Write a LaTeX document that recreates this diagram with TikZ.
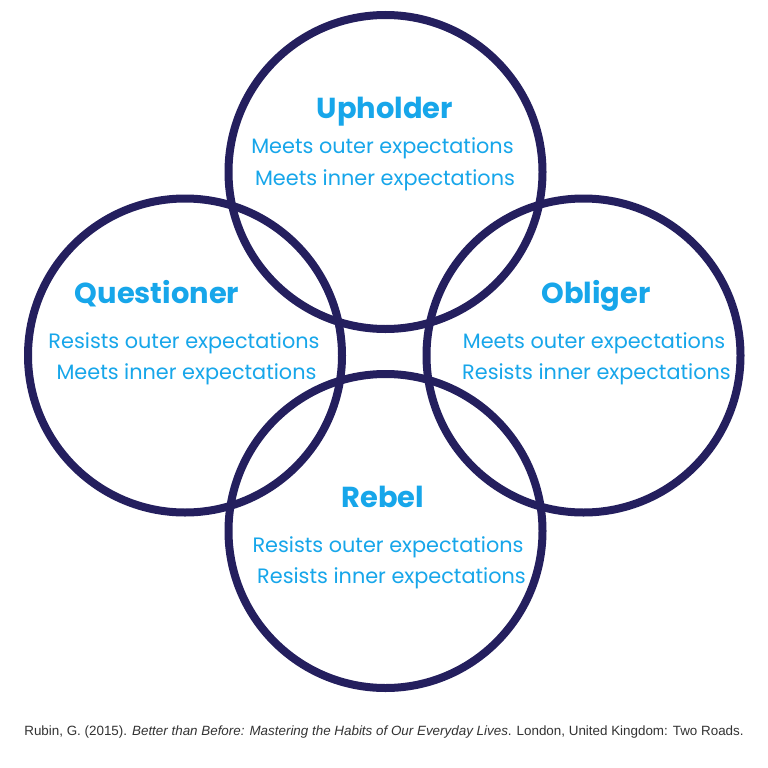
\documentclass[tikz,border=0pt]{standalone}
\usepackage{fontspec}
\setmainfont{Poppins}
\newfontfamily\citefont{Liberation Sans}
\definecolor{ringcol}{HTML}{241F5E}
\definecolor{txtcol}{HTML}{17A6EA}
\definecolor{citecol}{HTML}{333333}
\begin{document}
\begin{tikzpicture}[x=1pt,y=-1pt,
  ring/.style={draw=ringcol,line width=8pt,circle,minimum size=314pt,inner sep=0pt},
  title/.style={anchor=base,text=txtcol,font=\fontsize{28.9}{32}\selectfont\bfseries,inner sep=0pt},
  body/.style={anchor=base,text=txtcol,font=\fontsize{20.8}{23}\selectfont,inner sep=0pt},
  cite/.style={anchor=base,text=citecol,font=\citefont\fontsize{13.4}{15}\selectfont,inner sep=0pt}]
\useasboundingbox[fill=white] (0,0) rectangle (768,768);
\node[ring] (up) at (385.5,172) {};
\node[ring] (qu) at (185,355.5) {};
\node[ring] (ob) at (583.5,355.5) {};
\node[ring] (re) at (385.5,531) {};
\node[title] (upT) at (385,118) {Upholder};
\node[body] (up1) at (382.5,153) {Meets outer expectations};
\node[body] (up2) at (385,185) {Meets inner expectations};
\node[title] (quT) at (157,303) {Questioner};
\node[body] (qu1) at (184,348) {Resists outer expectations};
\node[body] (qu2) at (186.5,379) {Meets inner expectations};
\node[title] (obT) at (596,303) {Obliger};
\node[body] (ob1) at (594,348) {Meets outer expectations};
\node[body] (ob2) at (596.5,379) {Resists inner expectations};
\node[title] (reT) at (383,507) {Rebel};
\node[body] (re1) at (388,552) {Resists outer expectations};
\node[body] (re2) at (391.5,583) {Resists inner expectations};
\node[cite] (ci) at (384,735) {Rubin, G. (2015). \textit{Better than Before: Mastering the Habits of Our Everyday Lives}. London, United Kingdom: Two Roads.};
\end{tikzpicture}
\end{document}
